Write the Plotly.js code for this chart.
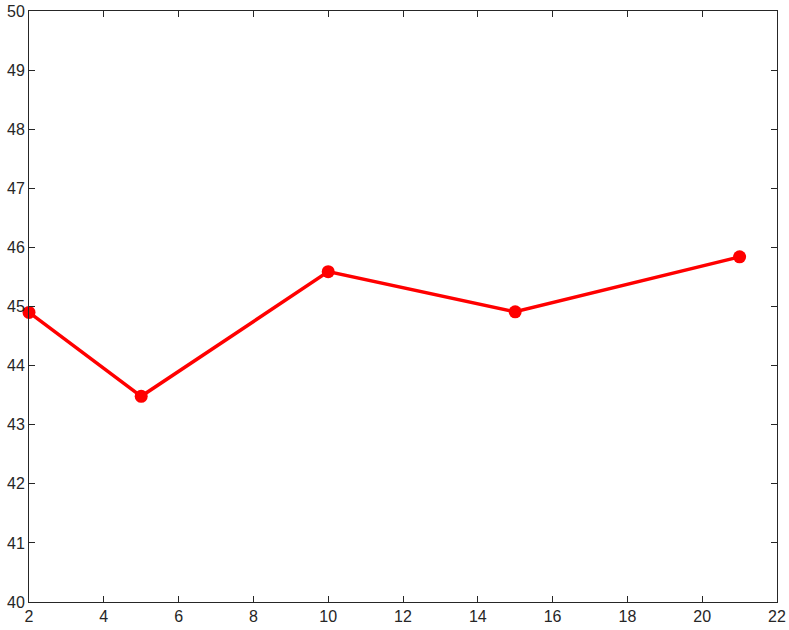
<!DOCTYPE html>
<html>
<head>
<meta charset="utf-8">
<script src="https://cdn.plot.ly/plotly-3.0.1.min.js"></script>
<style>
  html, body { margin: 0; padding: 0; background: #fff; }
  #plotly_graph { width: 789px; height: 630px; }
</style>
</head>
<body>
<div id="plotly_graph"></div>
<script>
// DATA
const X_VALUES = [2, 5, 10, 15, 21]
const Y_VALUES = [44.90, 43.48, 45.59, 44.91, 45.84]

const X_TICKS = [2, 4, 6, 8, 10, 12, 14, 16, 18, 20, 22]
const Y_TICKS = [40, 41, 42, 43, 44, 45, 46, 47, 48, 49, 50]

let graphDiv = document.getElementById('plotly_graph')

let trace1 = {
    type: 'scatter',
    mode: 'lines+markers',
    x: X_VALUES,
    y: Y_VALUES,
    line: { color: '#ff0000', width: 3.5 },
    marker: { color: '#ff0000', size: 13 },
    cliponaxis: false
}

const axisStyle = {
    showgrid: false,
    zeroline: false,
    showline: true,
    linecolor: '#262626',
    linewidth: 1,
    mirror: 'ticks',
    ticks: 'inside',
    ticklen: 6,
    tickcolor: '#262626',
    tickfont: { family: 'Liberation Sans, Arial, sans-serif', size: 16, color: '#262626' }
}

let layout = {
    width: 789,
    height: 630,
    margin: { t: 10.5, r: 12, b: 27.5, l: 28.5 },
    paper_bgcolor: '#ffffff',
    plot_bgcolor: '#ffffff',
    showlegend: false,
    xaxis: Object.assign({}, axisStyle, {
        range: [2, 22],
        tickmode: 'array',
        tickvals: X_TICKS
    }),
    yaxis: Object.assign({}, axisStyle, {
        range: [40, 50],
        tickmode: 'array',
        tickvals: Y_TICKS
    })
}

const config = { displayModeBar: false, staticPlot: true }

Plotly.newPlot(graphDiv, [trace1], layout, config)
</script>
</body>
</html>
